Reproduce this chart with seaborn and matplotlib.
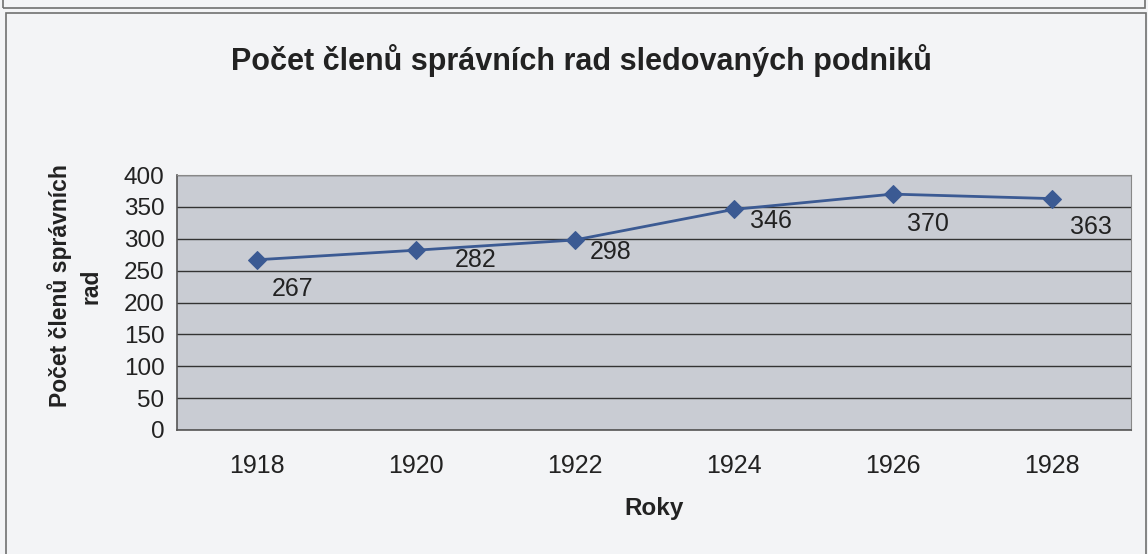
import numpy as np
import pandas as pd
import matplotlib.pyplot as plt
import matplotlib.patches as mpatches
import seaborn as sns

# Data
roky = ['1918', '1920', '1922', '1924', '1926', '1928']
pocet = [267, 282, 298, 346, 370, 363]

df = pd.DataFrame({'rok': roky, 'pocet': pocet})

sns.set_style('white')
plt.rcParams['font.family'] = ['Liberation Sans', 'DejaVu Sans']

fig = plt.figure(figsize=(11.48, 5.54), dpi=100)
fig.patch.set_facecolor('#f3f4f6')

# ramecky jako ve skenu
fig.patches.append(mpatches.Rectangle((6 / 1148, -0.02), 1140 / 1148, 1 - 13 / 554 + 0.02,
                                      transform=fig.transFigure, fill=False,
                                      edgecolor='#707070', linewidth=1.2))
fig.patches.append(mpatches.Rectangle((3 / 1148, 1 - 8 / 554), 1142 / 1148, 0.05,
                                      transform=fig.transFigure, fill=False,
                                      edgecolor='#707070', linewidth=1.2))

ax = fig.add_axes([177 / 1148, 1 - 430 / 554, 954 / 1148, 255 / 554])
ax.set_facecolor('#c9ccd3')

x = np.arange(len(roky))
sns.lineplot(x=x, y=df['pocet'], ax=ax, color='#3b5a93', linewidth=2,
             marker='D', markersize=9, markeredgecolor='#3b5a93')

# popisky hodnot - posun v px (jako v originale, rucne posunute)
dx = [36, 60, 36, 37, 35, 39]
dy = [-29, -10, -12, -12, -30, -28]
for xi, v, ox, oy in zip(x, pocet, dx, dy):
    ax.annotate(str(v), (xi, v), xytext=(ox, oy), textcoords='offset pixels',
                ha='center', va='center', fontsize=18, color='#222222')

ax.set_xlim(-0.5, len(roky) - 0.5)
ax.set_ylim(0, 400)
ax.set_yticks(range(0, 401, 50))
ax.set_xticks(x)
ax.set_xticklabels(roky)
ax.set_xticks(np.arange(-0.5, len(roky), 1), minor=True)
ax.tick_params(axis='x', which='major', length=0, pad=17, labelsize=18, colors='#222222')
ax.tick_params(axis='x', which='minor', length=6, color='#555555', direction='out')
ax.tick_params(axis='y', length=6, color='#555555', direction='out', labelsize=17.5,
               colors='#222222', pad=3)
ax.yaxis.grid(True, color='#333333', linewidth=1)
ax.xaxis.grid(False)
for side in ['top', 'right']:
    ax.spines[side].set_color('#888888')
for side in ['left', 'bottom']:
    ax.spines[side].set_color('#555555')
    ax.spines[side].set_linewidth(1.2)

ax.set_xlabel('Roky', fontsize=17.5, fontweight='bold', color='#222222', va='center')
ax.xaxis.set_label_coords(0.5, (430 - 509) / 255)
ax.set_ylabel('Počet členů správních\nrad', fontsize=16.5, fontweight='bold',
              color='#222222', linespacing=1.45, va='center')
ax.yaxis.set_label_coords((75 - 177) / 954, (430 - 286) / 255)
fig.text(581 / 1148, 1 - 61 / 554, 'Počet členů správních rad sledovaných podniků',
         ha='center', va='center', fontsize=22, fontweight='bold', color='#222222')

plt.savefig('out.png', dpi=100, facecolor=fig.get_facecolor())
